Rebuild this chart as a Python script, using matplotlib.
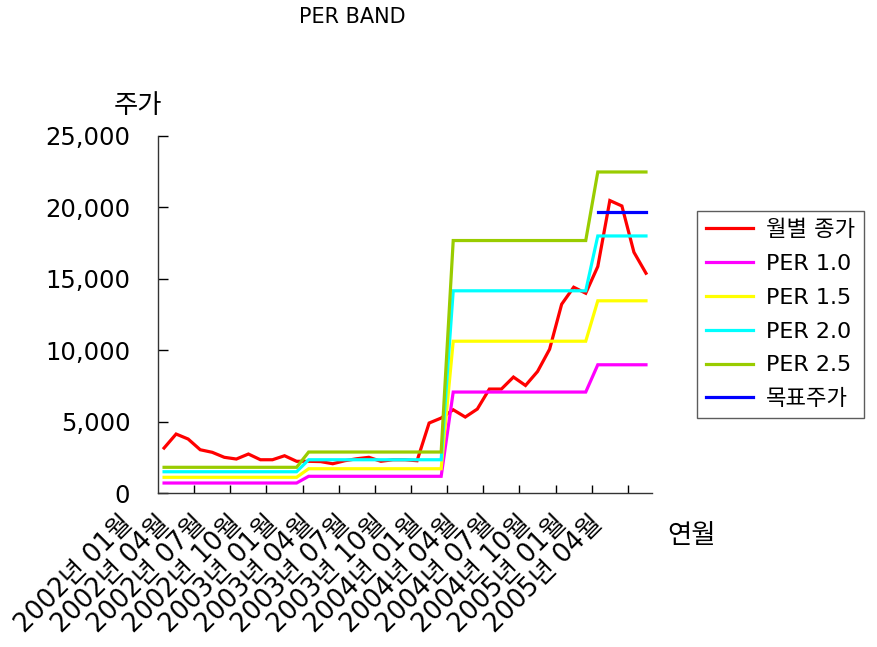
import numpy as np
import matplotlib
matplotlib.use('Agg')
import matplotlib.pyplot as plt
from matplotlib.ticker import FuncFormatter
from matplotlib.transforms import ScaledTranslation

plt.rcParams['font.family'] = ['DejaVu Sans', 'Noto Sans CJK KR']

# monthly closes, 2002-01 .. 2005-05
close = [3150, 4130, 3780, 3030, 2850, 2500, 2380, 2730, 2330, 2330, 2610, 2220,
         2220, 2200, 2050, 2260, 2400, 2500, 2220, 2330, 2330, 2260, 4900, 5250,
         5830, 5320, 5880, 7280, 7280, 8120, 7530, 8510, 10070, 13220, 14410, 13990,
         15860, 20480, 20100, 16860, 15390]

# PER band levels (one value per year block)
per10 = [700] * 12 + [1170] * 12 + [7070] * 12 + [8980] * 5
per15 = [1100] * 12 + [1700] * 12 + [10630] * 12 + [13460] * 5
per20 = [1490] * 12 + [2330] * 12 + [14160] * 12 + [18000] * 5
per25 = [1800] * 12 + [2870] * 12 + [17680] * 12 + [22480] * 5
target = [np.nan] * 36 + [19700] * 5

tick_labels = ['2002년 01월', '2002년 04월', '2002년 07월', '2002년 10월',
               '2003년 01월', '2003년 04월', '2003년 07월', '2003년 10월',
               '2004년 01월', '2004년 04월', '2004년 07월', '2004년 10월',
               '2005년 01월', '2005년 04월']

series = [
    ('월별 종가', close, '#FF0000'),
    ('PER 1.0', per10, '#FF00FF'),
    ('PER 1.5', per15, '#FFFF00'),
    ('PER 2.0', per20, '#00FFFF'),
    ('PER 2.5', per25, '#99CC00'),
    ('목표주가', target, '#0000FF'),
]

fig = plt.figure(figsize=(8.78, 6.47), dpi=100)
ax = fig.add_axes([0.180, 0.238, 0.5626, 0.5518])

x = np.arange(len(close))
for name, vals, col in series:
    ax.plot(x, vals, color=col, lw=2.3, label=name, solid_joinstyle='miter')

ax.set_xlim(-0.5, len(close) - 0.5)
ax.set_ylim(0, 25000)
ax.set_yticks(np.arange(0, 25001, 5000))
ax.yaxis.set_major_formatter(FuncFormatter(lambda v, p: f'{int(v):,}'))
ax.tick_params(axis='y', direction='in', length=7, width=1, pad=20,
               labelsize=17.5, colors='black')

ax.set_xticks(np.arange(0, len(close), 3))
ax.set_xticklabels(tick_labels, rotation=45, ha='right', va='center',
                   rotation_mode='anchor')
ax.set_xticks(np.arange(2.5, len(close) - 1, 3), minor=True)
ax.tick_params(axis='x', which='major', length=0, pad=19, labelsize=18.5)
ax.tick_params(axis='x', which='minor', direction='in', length=6, width=1)
shift = ScaledTranslation(-0.35, 0, fig.dpi_scale_trans)
for lbl in ax.get_xticklabels():
    lbl.set_transform(lbl.get_transform() + shift)

for s in ['top', 'right']:
    ax.spines[s].set_visible(False)
for s in ['left', 'bottom']:
    ax.spines[s].set_color('#333333')
    ax.spines[s].set_linewidth(1)

ax.set_ylabel('주가', rotation=0, ha='center', va='center', fontsize=19)
ax.yaxis.set_label_coords(-0.04, 1.084)
ax.set_xlabel('연월', ha='center', va='center', fontsize=19)
ax.xaxis.set_label_coords(1.081, -0.12)

fig.text(0.401, 0.974, 'PER BAND', ha='center', va='center', fontsize=15)

leg = ax.legend(loc='upper left', bbox_to_anchor=(0.7938, 0.6739),
                bbox_transform=fig.transFigure, borderaxespad=0,
                fontsize=16, frameon=True, fancybox=False, shadow=False,
                handlelength=2.1, handletextpad=0.6, labelspacing=0.62,
                borderpad=0.4)
leg.get_frame().set_edgecolor('#333333')
leg.get_frame().set_linewidth(1)

fig.savefig('out.png', dpi=100)
